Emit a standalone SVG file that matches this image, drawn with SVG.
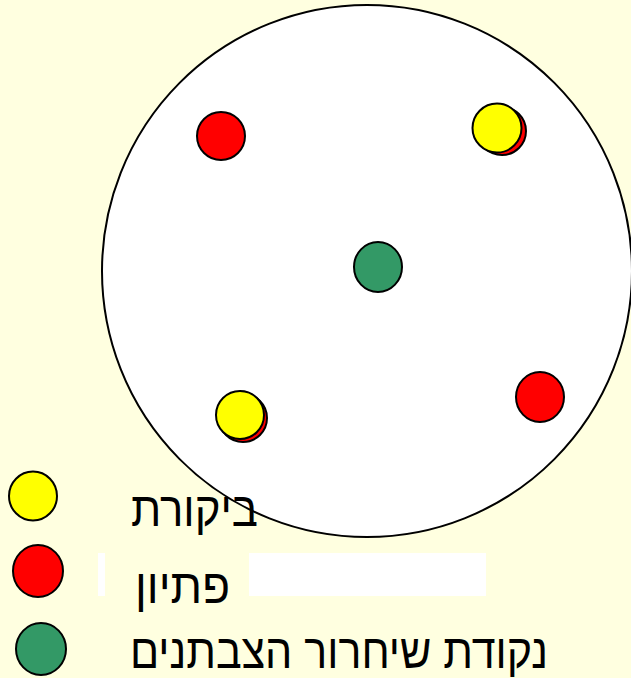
<svg xmlns="http://www.w3.org/2000/svg" width="631" height="678" viewBox="0 0 631 678">
<style>
.dot{stroke:#000;stroke-width:2}
.y{fill:#FFFF00}
.r{fill:#FF0000}
.g{fill:#339966}
.lbl{font-family:"Liberation Sans","DejaVu Sans",sans-serif;font-size:48px;fill:#000}
</style>
<rect x="0" y="0" width="631" height="678" fill="#FFFFE0"/>
<g id="area">
<ellipse cx="367" cy="271" rx="265" ry="266" fill="#FFFFFF" stroke="#000" stroke-width="2"/>
</g>
<g id="trap1"><circle class="dot r" cx="221" cy="136" r="24"/></g>
<g id="trap2"><circle class="dot r" cx="502" cy="131" r="24"/></g>
<g id="check1"><circle class="dot y" cx="497" cy="128" r="24.5"/></g>
<g id="release"><ellipse class="dot g" cx="378" cy="267" rx="24" ry="25"/></g>
<g id="trap3"><circle class="dot r" cx="243" cy="418" r="24"/></g>
<g id="check2"><circle class="dot y" cx="240" cy="415" r="24"/></g>
<g id="trap4"><ellipse class="dot r" cx="540" cy="397" rx="24" ry="25"/></g>
<g id="legend">
<ellipse class="dot y" cx="33" cy="496" rx="24" ry="24.5"/>
<ellipse class="dot r" cx="38" cy="571" rx="25" ry="26"/>
<ellipse class="dot g" cx="41" cy="649" rx="25" ry="26"/>
<rect x="98" y="553" width="7" height="43" fill="#FFFFFF"/>
<rect x="249" y="553" width="237" height="43" fill="#FFFFFF"/>
<text class="lbl" x="131" y="526" textLength="127" lengthAdjust="spacingAndGlyphs">ביקורת</text>
<text class="lbl" x="135" y="603" textLength="95" lengthAdjust="spacingAndGlyphs">פתיון</text>
<text class="lbl" x="130" y="668" textLength="418" lengthAdjust="spacingAndGlyphs">נקודת שיחרור הצבתנים</text>
</g>
</svg>
